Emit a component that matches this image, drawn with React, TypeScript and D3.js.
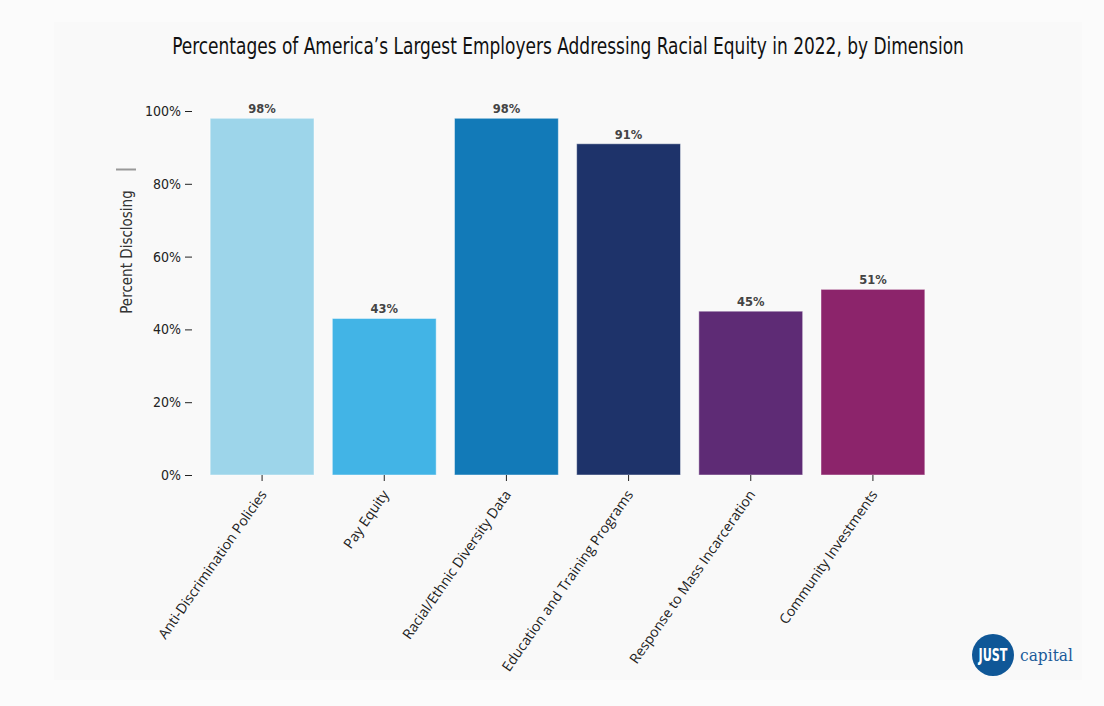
import * as d3 from 'd3';
import { useEffect, useRef } from 'react';

const categories = [
  'Anti-Discrimination Policies',
  'Pay Equity',
  'Racial/Ethnic Diversity Data',
  'Education and Training Programs',
  'Response to Mass Incarceration',
  'Community Investments',
];
const values = [98, 43, 98, 91, 45, 51];
const barColors = ['#9dd5ea', '#42b4e6', '#127ab8', '#1e336a', '#5e2b75', '#8c246b'];
const yTicks = [0, 20, 40, 60, 80, 100];

const W = 1104;
const H = 706;
const condensed = '"Liberation Sans Narrow", "DejaVu Sans Condensed", "Roboto", sans-serif';
const labelFont = '"Open Sans", "Noto Sans", sans-serif';

const App = () => {
  const ref = useRef<SVGSVGElement | null>(null);

  useEffect(() => {
    if (!ref.current) return;
    const svg = d3.select(ref.current);
    svg.selectAll('*').remove();

    svg.append('rect').attr('width', W).attr('height', H).attr('fill', '#fbfbfb');
    svg.append('rect').attr('x', 54).attr('y', 22).attr('width', 1028).attr('height', 658).attr('fill', '#f9f9f9');

    // squeeze a text horizontally to a given width (no condensed face installed)
    const squeeze = (t: d3.Selection<SVGTextElement, unknown, null, undefined>, cx: number, cy: number, w: number) => {
      const len = t.node()!.getComputedTextLength() || w;
      t.attr('transform', `translate(${cx},${cy}) scale(${w / len},1)`);
    };

    const title = svg.append('text')
      .attr('text-anchor', 'middle')
      .style('font-family', condensed)
      .style('font-size', '23px')
      .attr('fill', '#111')
      .text('Percentages of America\u2019s Largest Employers Addressing Racial Equity in 2022, by Dimension');
    squeeze(title, 568, 54, 792);

    const x = d3.scaleBand<string>().domain(categories).range([201, 934]).paddingInner(0.15).paddingOuter(0.075);
    const y = d3.scaleLinear().domain([0, 100]).range([475, 111]);

    // y axis
    const yAxis = svg.append('g').attr('transform', 'translate(192,0)')
      .call(d3.axisLeft(y).tickValues(yTicks).tickSize(7).tickPadding(4).tickFormat(d => `${d}%`));
    yAxis.select('.domain').remove();
    yAxis.selectAll('line').attr('stroke', '#222');
    yAxis.selectAll('text')
      .style('font-family', condensed)
      .style('font-size', '14px')
      .attr('fill', '#222');

    svg.append('text')
      .attr('transform', 'translate(132,252) rotate(-90)')
      .attr('text-anchor', 'middle')
      .style('font-family', condensed)
      .style('font-size', '15px')
      .attr('fill', '#333')
      .text('Percent Disclosing');
    svg.append('line')
      .attr('x1', 116).attr('x2', 136).attr('y1', 169.5).attr('y2', 169.5)
      .attr('stroke', '#999').attr('stroke-width', 2);

    // bars
    svg.append('g').selectAll('rect')
      .data(values)
      .enter().append('rect')
      .attr('x', (_, i) => x(categories[i]) ?? 0)
      .attr('width', x.bandwidth())
      .attr('y', d => y(d))
      .attr('height', d => y(0) - y(d))
      .attr('fill', (_, i) => barColors[i])
      .attr('stroke', 'rgba(255,255,255,0.45)')
      .attr('stroke-width', 1);

    svg.append('g').selectAll('text')
      .data(values)
      .enter().append('text')
      .attr('x', (_, i) => (x(categories[i]) ?? 0) + x.bandwidth() / 2)
      .attr('y', d => y(d) - 5)
      .attr('text-anchor', 'middle')
      .style('font-family', '"DejaVu Sans", sans-serif')
      .style('font-size', '11.5px')
      .style('font-weight', 'bold')
      .attr('fill', '#444')
      .text(d => `${d}%`);

    // x axis
    const xAxis = svg.append('g').attr('transform', 'translate(0,475)')
      .call(d3.axisBottom(x).tickSize(6).tickPadding(4));
    xAxis.select('.domain').remove();
    xAxis.selectAll('line').attr('stroke', '#222');
    xAxis.selectAll('text')
      .style('font-family', labelFont)
      .style('font-size', '14px')
      .attr('fill', '#222')
      .attr('text-anchor', 'end')
      .attr('dy', '0.35em')
      .attr('transform', 'translate(-7,11) rotate(-55)');

    // logo
    const logo = svg.append('g');
    logo.append('circle').attr('cx', 993).attr('cy', 655).attr('r', 21).attr('fill', '#0f5797');
    const just = logo.append('text')
      .attr('text-anchor', 'middle')
      .style('font-family', condensed)
      .style('font-size', '17px')
      .style('font-weight', 'bold')
      .attr('fill', '#fff')
      .text('JUST');
    squeeze(just, 993, 661, 29);
    const cap = logo.append('text')
      .attr('text-anchor', 'middle')
      .style('font-family', '"DejaVu Serif", "Liberation Serif", serif')
      .style('font-size', '17px')
      .attr('fill', '#1a5b9a')
      .text('capital');
    squeeze(cap, 1046.5, 661, 53);
  }, []);

  return (
    <svg ref={ref} width={W} height={H} style={{ position: 'absolute', left: 0, top: 0 }} />
  );
};

export default App;
